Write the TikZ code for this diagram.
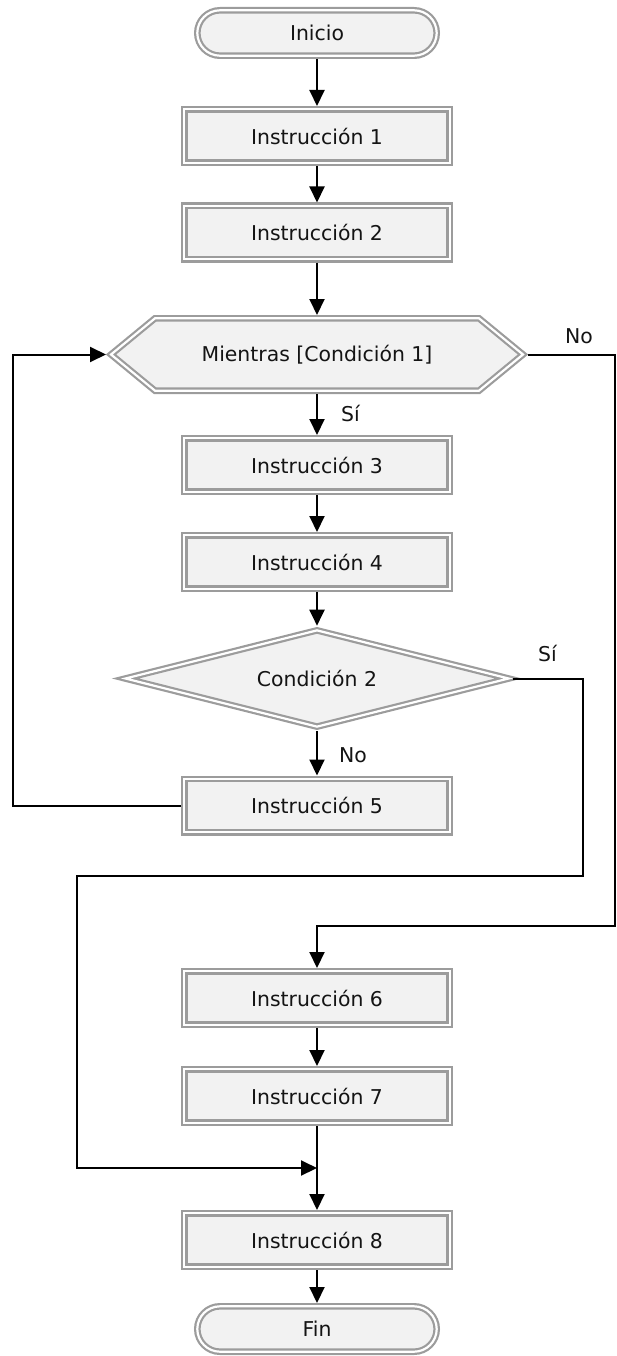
\documentclass[tikz,border=0pt]{standalone}
\usepackage{fontspec}
\setmainfont{DejaVu Sans}
\usetikzlibrary{arrows.meta,shapes.geometric,backgrounds}
\definecolor{bord}{HTML}{9C9C9C}
\definecolor{boxfill}{HTML}{F2F2F2}
\definecolor{ink}{HTML}{141414}
\begin{document}
\begin{tikzpicture}[x=1pt,y=-1pt,
  every node/.style={font=\fontsize{20.4}{24}\selectfont, text=ink},
  dblline/.style={draw=bord, double=white, line width=2.2pt, double distance=2.2pt, fill=boxfill},
  dbl/.style={dblline, outer sep=3.3pt, inner sep=0pt},
  proc/.style={dbl, rectangle, minimum width=265.4pt, minimum height=53.4pt},
  term/.style={dbl, rectangle, rounded corners=22.7pt, minimum width=239.4pt, minimum height=45.4pt},
  cond/.style={dbl, diamond, aspect=4, minimum width=386pt, minimum height=99pt},
  hexbox/.style={draw=none, fill=none, rectangle, inner sep=0pt, outer sep=0pt, minimum width=422pt, minimum height=79pt},
  arr/.style={draw=black, line width=2pt, -{Triangle[length=16pt,width=15pt]}},
  lbl/.style={inner sep=0pt, anchor=west}
]
\useasboundingbox (0,0) rectangle (617,1356);

% nodes
\node[term] (ini) at (317,33) {Inicio};
\node[proc] (i1) at (317,136) {Instrucción 1};
\node[proc] (i2) at (317,232.5) {Instrucción 2};
\node[hexbox] (hex) at (317,354.5) {Mientras [Condición 1]};
\begin{scope}[on background layer]
  \draw[dblline] (111,354.5) -- (155,318.3) -- (479,318.3) -- (523,354.5) -- (479,390.7) -- (155,390.7) -- cycle;
\end{scope}
\node[proc] (i3) at (317,465) {Instrucción 3};
\node[proc] (i4) at (317,562) {Instrucción 4};
\node[cond] (dia) at (317,678.5) {Condición 2};
\node[proc] (i5) at (317,805.5) {Instrucción 5};
\node[proc] (i6) at (317,998) {Instrucción 6};
\node[proc] (i7) at (317,1096) {Instrucción 7};
\node[proc] (i8) at (317,1240) {Instrucción 8};
\node[term] (fin) at (317,1329) {Fin};

% helper coordinates
\coordinate (lx) at (13,0);
\coordinate (nR) at (615,926);
\coordinate (sR) at (583,876);
\coordinate (sL) at (77,876);
\coordinate (mg) at (317,1168);

% straight connectors
\draw[arr] (ini) -- (i1);
\draw[arr] (i1) -- (i2);
\draw[arr] (i2) -- (hex);
\draw[arr] (hex) -- (i3);
\draw[arr] (i3) -- (i4);
\draw[arr] (i4) -- (dia);
\draw[arr] (dia) -- (i5);
\draw[arr] (i6) -- (i7);
\draw[arr] (i7) -- (i8);
\draw[arr] (i8) -- (fin);

% loop back
\draw[arr] (i5.west) -- (i5.west -| lx) |- (hex.west);
% No exit
\draw[arr] (hex.east) -| (nR) -| (i6.north);
% Si exit of condition 2
\draw[arr] (dia.east) -| (sR) -- (sL) |- (mg);

% labels
\node[lbl] (lsi1) at (341,413) {Sí};
\node[lbl] (lno1) at (565,336) {No};
\node[lbl] (lsi2) at (538,653) {Sí};
\node[lbl] (lno2) at (339,755) {No};
\end{tikzpicture}
\end{document}
